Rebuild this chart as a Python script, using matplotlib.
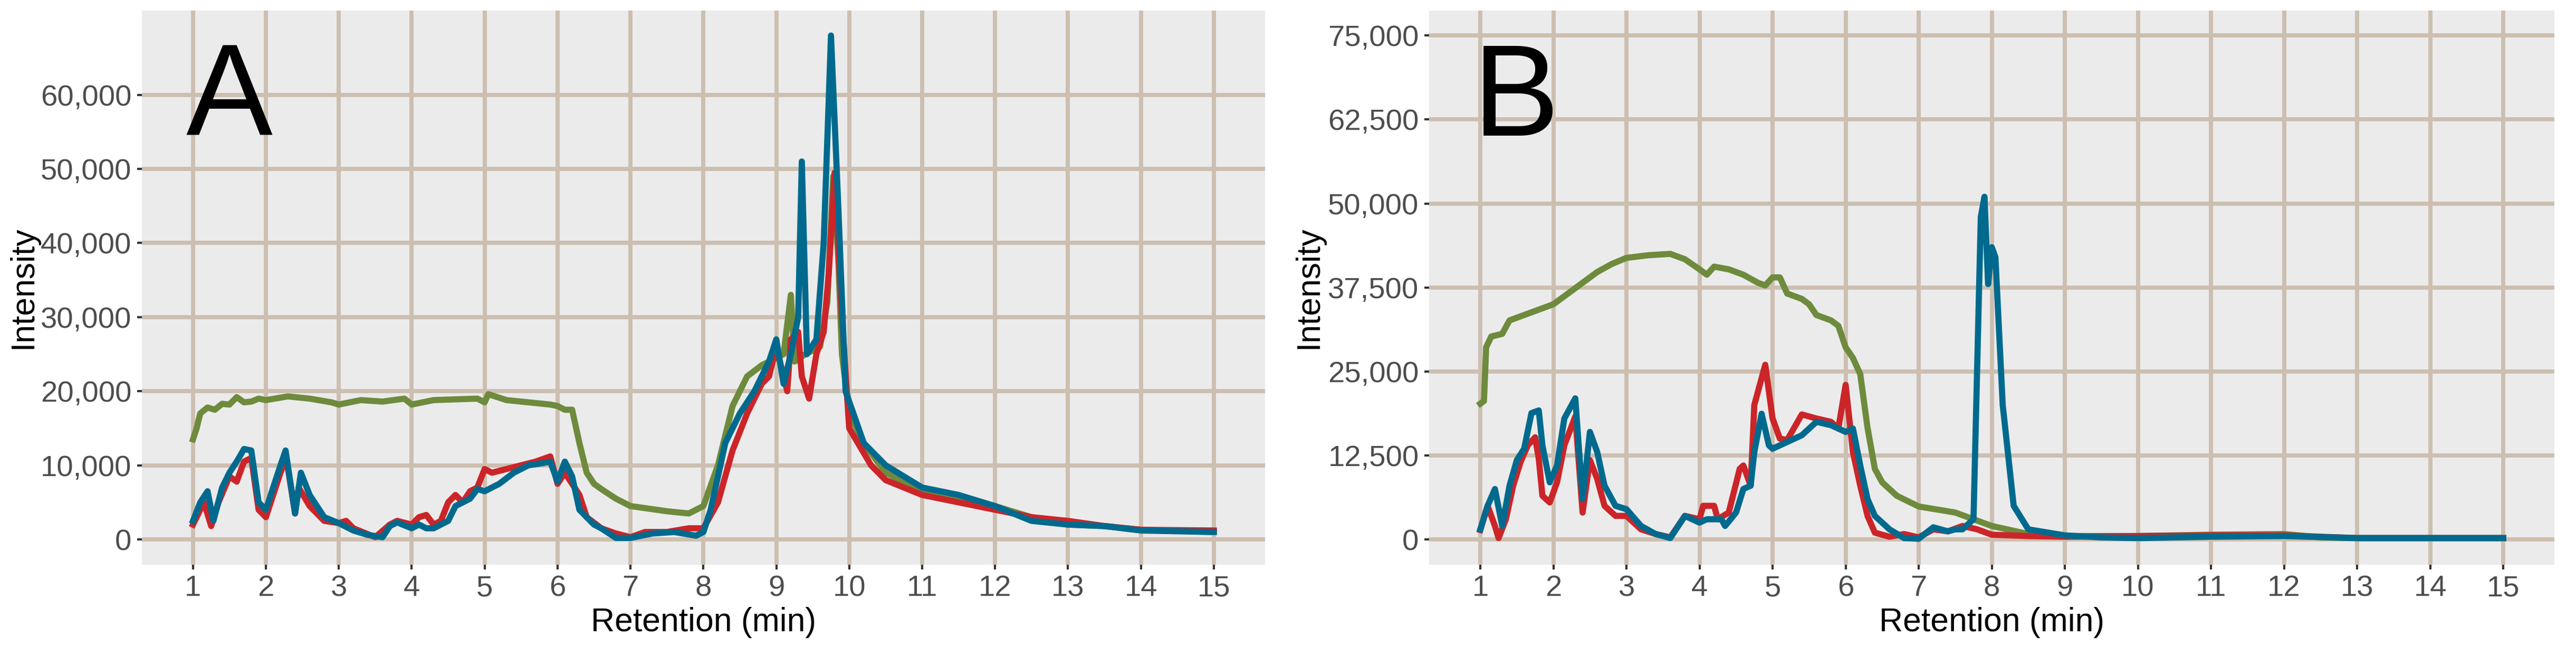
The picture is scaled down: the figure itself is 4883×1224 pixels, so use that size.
import numpy as np
import matplotlib.pyplot as plt
from matplotlib.ticker import FuncFormatter
from matplotlib.transforms import blended_transform_factory

plt.rcParams['font.family'] = ['Liberation Sans', 'DejaVu Sans']

# ---- panel A (intensity in thousands) ----
a_green_x = [1.0, 1.05, 1.1, 1.2, 1.3, 1.4, 1.5, 1.6, 1.7, 1.8, 1.9, 2.0, 2.3, 2.6, 2.9, 3.0, 3.3, 3.6, 3.9, 4.0, 4.3, 4.6, 4.9, 5.0, 5.05, 5.3, 5.6, 5.9, 6.0, 6.1, 6.2, 6.3, 6.4, 6.5, 6.6, 6.8, 7.0, 7.5, 7.8, 8.0, 8.2, 8.4, 8.6, 8.8, 9.0, 9.1, 9.2, 9.25, 9.4, 9.6, 9.7, 9.78, 9.85, 9.9, 10.0, 10.2, 10.5, 11.0, 11.5, 12.0, 12.5, 13.0, 13.5, 14.0, 15.0]
a_green_y = [13.5, 15, 17, 17.8, 17.5, 18.3, 18.2, 19.2, 18.5, 18.6, 19, 18.8, 19.3, 19, 18.5, 18.2, 18.8, 18.6, 19, 18.2, 18.8, 18.9, 19, 18.5, 19.6, 18.8, 18.5, 18.2, 18, 17.5, 17.5, 13, 9, 7.5, 6.8, 5.5, 4.5, 3.8, 3.5, 4.5, 10, 18, 22, 23.5, 24.5, 25, 33, 24, 25, 26, 32, 49, 38, 25, 17, 13, 9, 6.5, 5.5, 4.5, 3, 2, 1.8, 1.3, 1.0]
a_red_x = [1.0, 1.1, 1.15, 1.25, 1.35, 1.5, 1.6, 1.7, 1.8, 1.9, 2.0, 2.1, 2.2, 2.28, 2.4, 2.45, 2.6, 2.8, 3.0, 3.1, 3.2, 3.5, 3.7, 3.8, 4.0, 4.1, 4.2, 4.3, 4.4, 4.5, 4.6, 4.7, 4.8, 4.9, 5.0, 5.1, 5.3, 5.5, 5.7, 5.9, 6.0, 6.1, 6.2, 6.3, 6.4, 6.6, 6.8, 7.0, 7.2, 7.5, 7.8, 8.0, 8.2, 8.4, 8.6, 8.8, 8.9, 9.0, 9.05, 9.15, 9.2, 9.3, 9.35, 9.45, 9.55, 9.65, 9.72, 9.8, 9.9, 10.0, 10.3, 10.5, 11.0, 11.5, 12.0, 12.5, 13.0, 13.5, 14.0, 15.0]
a_red_y = [2, 4, 5, 1.8, 5, 8.5, 7.8, 10.5, 11, 4, 3, 6, 9, 11, 3.5, 7, 4.5, 2.5, 2.2, 2.5, 1.5, 0.3, 2, 2.5, 2, 3, 3.3, 2, 2.5, 5, 6, 5, 6.5, 7, 9.5, 9, 9.5, 10, 10.5, 11.2, 7.5, 9, 7.5, 6, 3, 1.5, 0.8, 0.3, 1, 1, 1.5, 1.5, 5, 12, 17, 21, 22, 26, 24, 20, 27, 28, 22, 19, 25, 28, 36, 49.5, 30, 15, 10, 8, 6, 5, 4, 3, 2.5, 1.8, 1.3, 1.2]
a_blue_x = [1.0, 1.1, 1.2, 1.28, 1.4, 1.5, 1.6, 1.7, 1.8, 1.9, 2.0, 2.1, 2.2, 2.27, 2.4, 2.48, 2.6, 2.8, 3.0, 3.2, 3.4, 3.6, 3.7, 3.8, 4.0, 4.1, 4.2, 4.3, 4.5, 4.6, 4.8, 4.9, 5.0, 5.2, 5.4, 5.6, 5.8, 5.9, 6.0, 6.1, 6.2, 6.3, 6.4, 6.5, 6.6, 6.8, 7.0, 7.3, 7.6, 7.9, 8.0, 8.1, 8.3, 8.5, 8.7, 8.9, 9.0, 9.1, 9.2, 9.3, 9.35, 9.42, 9.55, 9.65, 9.75, 9.85, 9.95, 10.2, 10.5, 11.0, 11.5, 12.0, 12.5, 13.0, 13.5, 14.0, 15.0]
a_blue_y = [2.5, 5, 6.5, 2.5, 7, 9, 10.5, 12.2, 12, 5, 4, 7, 10, 12, 3.5, 9, 6, 3, 2.2, 1.2, 0.6, 0.3, 1.8, 2.3, 1.5, 2, 1.5, 1.5, 2.5, 4.5, 5.5, 6.8, 6.5, 7.5, 9, 10, 10.3, 10.5, 7.8, 10.5, 8.5, 4, 3, 2, 1.5, 0.2, 0.2, 0.8, 1, 0.5, 1, 4, 13, 17, 20, 24, 27, 21, 25, 30, 51, 25, 27, 40, 68, 45, 20, 13, 10, 7, 6, 4.5, 2.5, 2, 1.8, 1.2, 1.0]

# ---- panel B (intensity in thousands) ----
b_green_x = [1.0, 1.05, 1.08, 1.15, 1.3, 1.4, 1.6, 1.8, 2.0, 2.2, 2.4, 2.6, 2.8, 3.0, 3.3, 3.6, 3.8, 4.0, 4.1, 4.2, 4.4, 4.6, 4.8, 4.9, 5.0, 5.1, 5.2, 5.4, 5.5, 5.6, 5.8, 5.9, 6.0, 6.1, 6.2, 6.3, 6.4, 6.5, 6.7, 7.0, 7.5, 8.0, 8.5, 9.0, 10.0, 11.0, 12.0, 12.5, 13.0, 15.0]
b_green_y = [20.2, 20.6, 28.6, 30.2, 30.6, 32.6, 33.4, 34.2, 35, 36.6, 38.2, 39.8, 41, 41.9, 42.3, 42.5, 41.7, 40.2, 39.4, 40.6, 40.2, 39.4, 38.2, 37.8, 39, 39, 36.6, 35.8, 35, 33.4, 32.6, 31.8, 28.6, 27, 24.6, 16.6, 10.5, 8.5, 6.5, 4.9, 4.0, 2.0, 0.8, 0.5, 0.5, 0.7, 0.8, 0.3, 0.2, 0.2]
b_red_x = [1.0, 1.1, 1.2, 1.25, 1.35, 1.45, 1.55, 1.65, 1.75, 1.8, 1.85, 1.95, 2.05, 2.15, 2.3, 2.4, 2.5, 2.6, 2.7, 2.85, 3.0, 3.2, 3.4, 3.6, 3.8, 4.0, 4.05, 4.2, 4.25, 4.4, 4.55, 4.6, 4.7, 4.75, 4.9, 5.0, 5.1, 5.2, 5.4, 5.6, 5.8, 5.9, 6.0, 6.1, 6.2, 6.3, 6.4, 6.6, 6.8, 7.0, 7.2, 7.4, 7.6, 7.8, 8.0, 8.5, 9.0, 10.0, 11.0, 12.0, 13.0, 15.0]
b_red_y = [1.4, 5, 2, 0.2, 3, 8, 11.5, 14, 15.2, 12, 6.5, 5.5, 8.5, 14, 18.3, 4, 11.8, 9, 5, 3.5, 3.5, 1.5, 0.8, 0.3, 3.5, 3, 5, 5, 3, 4, 10.5, 11, 8, 20, 26, 18, 15, 14.8, 18.6, 18, 17.5, 16.5, 23, 13, 8, 3.5, 1, 0.4, 0.8, 0.3, 1.5, 1.2, 2, 1.5, 0.7, 0.5, 0.4, 0.5, 0.6, 0.6, 0.2, 0.2]
b_blue_x = [1.0, 1.1, 1.2, 1.3, 1.4, 1.5, 1.6, 1.7, 1.8, 1.85, 1.95, 2.05, 2.15, 2.3, 2.4, 2.5, 2.6, 2.7, 2.85, 3.0, 3.2, 3.4, 3.6, 3.8, 4.0, 4.1, 4.3, 4.35, 4.5, 4.6, 4.7, 4.75, 4.85, 4.95, 5.0, 5.2, 5.4, 5.6, 5.8, 6.0, 6.1, 6.2, 6.3, 6.4, 6.6, 6.8, 7.0, 7.2, 7.4, 7.5, 7.6, 7.75, 7.85, 7.9, 7.95, 8.0, 8.05, 8.15, 8.3, 8.5, 9.0, 9.5, 10.0, 11.0, 12.0, 13.0, 15.0]
b_blue_y = [1.5, 5, 7.5, 2, 8, 11.8, 13.5, 18.8, 19.2, 14, 8.5, 11, 18, 21, 6, 16, 13, 8, 5, 4.5, 2, 0.8, 0.2, 3.5, 2.5, 3, 3, 2, 4, 7.5, 8, 13, 18.7, 14, 13.5, 14.5, 15.5, 17.5, 17, 16, 16.5, 11, 6, 3.5, 1.5, 0.2, 0.1, 1.8, 1.2, 1.5, 1.5, 3, 48, 51, 38, 43.5, 42, 20, 5, 1.5, 0.6, 0.3, 0.2, 0.4, 0.5, 0.2, 0.2]

red, blue, green = '#CC2529', '#006A8E', '#6E8B3D'
grid_col = '#CDBFB0'

fig = plt.figure(figsize=(4883 / 300, 1224 / 300), dpi=300)
axA = fig.add_axes([0.0551, 0.126, 0.4359, 0.858])
axB = fig.add_axes([0.5548, 0.126, 0.4368, 0.858])

fmt = FuncFormatter(lambda v, p: f'{int(round(v)):,}')

panels = [
    (axA, 'A', [(a_green_x, a_green_y, green), (a_red_x, a_red_y, red), (a_blue_x, a_blue_y, blue)],
     np.arange(0, 60001, 10000), (-3400, 71400), 0.009),
    (axB, 'B', [(b_green_x, b_green_y, green), (b_red_x, b_red_y, red), (b_blue_x, b_blue_y, blue)],
     np.arange(0, 75001, 12500), (-3750, 78750), 0.508),
]

for ax, letter, series, yt, ylim, ylab_x in panels:
    ax.set_facecolor('#EBEBEB')
    for x, y, c in series:
        ax.plot(x, np.array(y) * 1000, color=c, lw=2.8, solid_joinstyle='round', zorder=3)
    ax.set_xlim(0.3, 15.7)
    ax.set_ylim(*ylim)
    ax.set_xticks(range(1, 16))
    ax.set_yticks(yt)
    ax.yaxis.set_major_formatter(fmt)
    ax.grid(True, color=grid_col, lw=1.9, zorder=1)
    ax.set_axisbelow(True)
    for s in ax.spines.values():
        s.set_visible(False)
    ax.tick_params(length=2.2, width=1.0, pad=2.5, color='#333333', labelsize=13.5, labelcolor='#4D4D4D')
    ax.set_xlabel('Retention (min)', fontsize=15, labelpad=2)
    ax.set_ylabel('Intensity', fontsize=15, va='center')
    ax.yaxis.set_label_coords(ylab_x, 0.5,
                              transform=blended_transform_factory(fig.transFigure, ax.transAxes))
    ax.text(0.039, 0.835, letter, transform=ax.transAxes, fontsize=59, va='center', ha='left')

fig.savefig('out.png', dpi=300)
